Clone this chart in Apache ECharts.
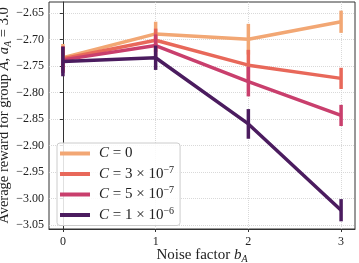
<!DOCTYPE html>
<html><head><meta charset="utf-8">
<script src="https://cdn.jsdelivr.net/npm/echarts@6/dist/echarts.min.js"></script>
<style>html,body{margin:0;padding:0;background:#fff}#c{width:359px;height:263px}</style>
</head><body><div id="c"></div>
<script>
const xs = [0, 1, 2, 3];
const xTicks = [0, 1, 2, 3];
const yTicks = [-3.05, -3.00, -2.95, -2.90, -2.85, -2.80, -2.75, -2.70, -2.65];
const names = ['C = 0', 'C = 3e-7', 'C = 5e-7', 'C = 1e-6'];
const meanC0 = [-2.734, -2.689, -2.699, -2.666];
const errC0  = [0.026, 0.023, 0.029, 0.021];
const meanC3 = [-2.736, -2.701, -2.748, -2.773];
const errC3  = [0.024, 0.022, 0.029, 0.020];
const meanC5 = [-2.738, -2.711, -2.779, -2.843];
const errC5  = [0.025, 0.021, 0.028, 0.020];
const meanC1 = [-2.741, -2.734, -2.859, -3.022];
const errC1  = [0.028, 0.023, 0.028, 0.021];
const colors = ['#f2a774', '#e8685a', '#c93f6d', '#4b1c5f'];
const means = [meanC0, meanC3, meanC5, meanC1];
const errs = [errC0, errC3, errC5, errC1];
const labels = {
  'C = 0': '{i|C} = 0',
  'C = 3e-7': '{i|C} = 3 × 10{s|−7}',
  'C = 5e-7': '{i|C} = 5 × 10{s|−7}',
  'C = 1e-6': '{i|C} = 1 × 10{s|−6}'
};
const F = 'Liberation Serif';
const series = [];
names.forEach((n, k) => {
  series.push({
    type: 'custom', name: n, silent: true,
    data: xs.map((x, i) => [x, means[k][i] - errs[k][i], means[k][i] + errs[k][i]]),
    renderItem: (params, api) => {
      const p1 = api.coord([api.value(0), api.value(1)]);
      const p2 = api.coord([api.value(0), api.value(2)]);
      return { type: 'line', shape: { x1: p1[0], y1: p1[1], x2: p2[0], y2: p2[1] },
        style: { stroke: colors[k], lineWidth: 3.5 } };
    },
    encode: { x: 0, y: [1, 2] }, z: 2 + k * 2
  });
  series.push({
    type: 'line', name: n, data: xs.map((x, i) => [x, means[k][i]]),
    showSymbol: false, symbol: 'none', lineStyle: { color: colors[k], width: 3.5 },
    itemStyle: { color: colors[k] }, z: 3 + k * 2, silent: true
  });
});
const chart = echarts.init(document.getElementById('c'), null, { renderer: 'canvas' });
chart.setOption({
  animation: false,
  color: colors,
  grid: { left: 49, top: 2, right: 4, bottom: 34, show: true, borderColor: '#333', borderWidth: 1,
    containLabel: false, outerBoundsMode: 'none' },
  xAxis: {
    type: 'value', min: -0.15, max: 3.15,
    name: '{n|Noise factor }{i|b}{sub|A}', nameLocation: 'middle', nameGap: 18, nameMoveOverlap: false,
    nameTextStyle: { rich: {
      n: { fontFamily: F, fontSize: 15, color: '#222' },
      i: { fontFamily: F, fontSize: 15, fontStyle: 'italic', color: '#222' },
      sub: { fontFamily: F, fontSize: 10, fontStyle: 'italic', color: '#222', padding: [7, 0, 0, 0] }
    } },
    axisLine: { lineStyle: { color: '#333' } },
    axisTick: { customValues: xTicks, length: 3, lineStyle: { color: '#333' } },
    axisLabel: { customValues: xTicks, fontFamily: F, fontSize: 12, color: '#222', margin: 7 },
    splitLine: { show: true, lineStyle: { color: '#d0d0d0', type: [1, 1], width: 0.8 } }
  },
  yAxis: {
    type: 'value', min: -3.0575, max: -2.6287,
    name: '{n|Average reward for group }{i|A}{n|, }{i|a}{sub|A}{n| = 3.0}', nameLocation: 'middle', nameGap: 36,
    nameMoveOverlap: false,
    nameTextStyle: { rich: {
      n: { fontFamily: F, fontSize: 14.5, color: '#222' },
      i: { fontFamily: F, fontSize: 14.5, fontStyle: 'italic', color: '#222' },
      sub: { fontFamily: F, fontSize: 10, fontStyle: 'italic', color: '#222', padding: [7, 0, 0, 0] }
    } },
    axisLine: { show: true, lineStyle: { color: '#333' } },
    axisTick: { show: true, customValues: yTicks, length: 3, lineStyle: { color: '#333' } },
    axisLabel: { customValues: yTicks, fontFamily: F, fontSize: 12, color: '#222', margin: 5,
      formatter: v => (v < 0 ? '−' : '') + Math.abs(v).toFixed(2) },
    splitLine: { show: true, lineStyle: { color: '#d0d0d0', type: [1, 1], width: 0.8 } }
  },
  legend: {
    data: names, orient: 'vertical', left: 57, top: 143,
    backgroundColor: 'rgba(255,255,255,0.85)', borderColor: '#cccccc', borderWidth: 1, borderRadius: 3,
    padding: [3, 6, 3, 3], itemWidth: 30, itemHeight: 4, itemGap: 4, icon: 'rect',
    selectedMode: false,
    formatter: n => labels[n],
    textStyle: { fontFamily: F, fontSize: 15, color: '#222', padding: [0, 0, 0, 4],
      rich: {
        i: { fontFamily: F, fontSize: 15, fontStyle: 'italic', color: '#222' },
        s: { fontFamily: F, fontSize: 10, color: '#222', padding: [0, 0, 8, 0] }
      } }
  },
  series: series
});
</script></body></html>
